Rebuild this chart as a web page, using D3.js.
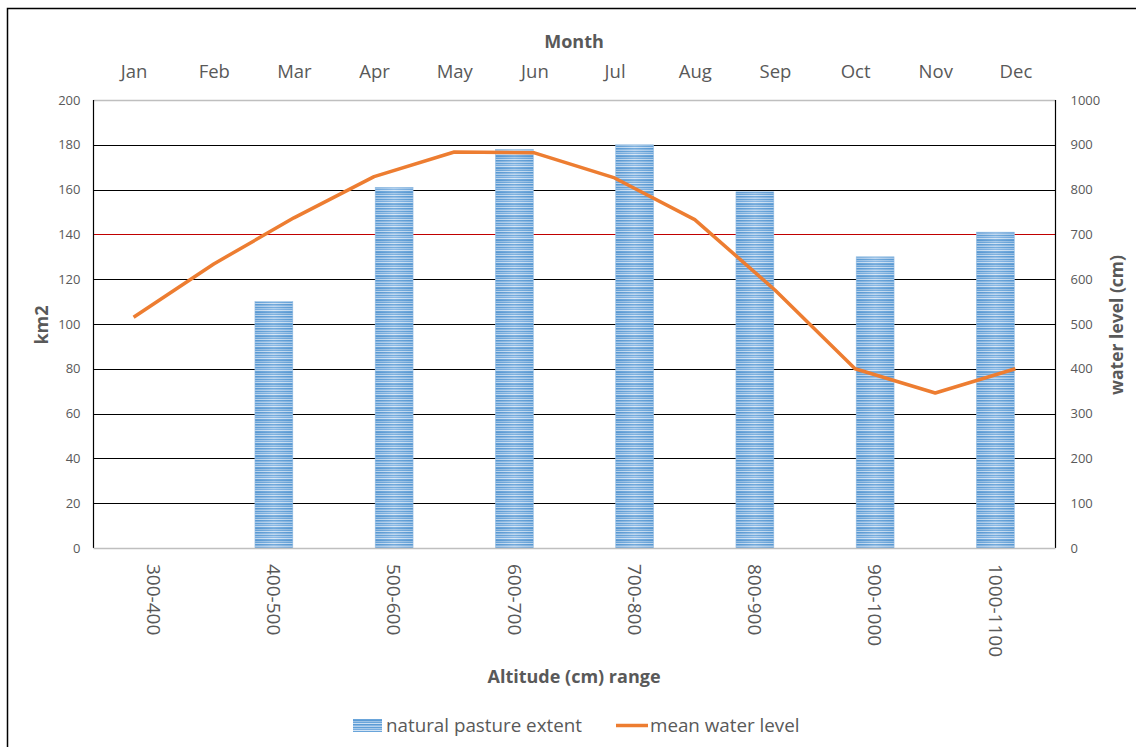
<!DOCTYPE html>
<html><head><meta charset="utf-8">
<script src="https://cdn.jsdelivr.net/npm/d3@7"></script>
<style>body{margin:0;background:#fff;font-family:"Open Sans","Liberation Sans",sans-serif;}</style>
</head><body><svg id="c" width="1136" height="747"></svg>
<script>
const categories = ["300-400","400-500","500-600","600-700","700-800","800-900","900-1000","1000-1100"];
const pastureExtent = [0,110,161,178,180,159,130,141];
const months = ["Jan","Feb","Mar","Apr","May","Jun","Jul","Aug","Sep","Oct","Nov","Dec"];
const waterLevel = [515,634,737,829,884,882,826,733,576,400,346,400];
const leftTicks = [0,20,40,60,80,100,120,140,160,180,200];
const rightTicks = [0,100,200,300,400,500,600,700,800,900,1000];

const svg = d3.select("#c");
const L=93.5, R=1055.5, T=100, B=548;
const txt="#595959";
const FF="Open Sans, sans-serif";

svg.append("rect").attr("x",7.5).attr("y",8.5).attr("width",1140).attr("height",760)
  .attr("fill","#fff").attr("stroke","#000").attr("stroke-width",1.5);

const defs = svg.append("defs");
const pat = defs.append("pattern").attr("id","stripes").attr("patternUnits","userSpaceOnUse")
  .attr("width",8).attr("height",12);
const rows = ["#5b9bd5","#9cc2e5","#6aa5da","#c9def2","#5b9bd5","#8ab8e2","#b5d1ee","#5f9fd7","#a6c9ea","#78ade0","#d2e4f5","#6aa5da"];
rows.forEach((c,i)=>pat.append("rect").attr("x",0).attr("y",i).attr("width",8).attr("height",1).attr("fill",c));
const grad = defs.append("linearGradient").attr("id","sheen").attr("x1","0").attr("x2","1").attr("y1","0").attr("y2","0");
grad.append("stop").attr("offset","0").attr("stop-color","#2e75b6").attr("stop-opacity",0.12);
grad.append("stop").attr("offset","0.5").attr("stop-color","#ffffff").attr("stop-opacity",0.15);
grad.append("stop").attr("offset","1").attr("stop-color","#2e75b6").attr("stop-opacity",0.12);

const x = d3.scaleBand().domain(categories).range([L,R]).paddingInner(0.685).paddingOuter(0.3425);
const xm = d3.scalePoint().domain(months).range([L,R]).padding(0.5);
const y = d3.scaleLinear().domain([0,200]).range([B,T]);
const y2 = d3.scaleLinear().domain([0,1000]).range([B,T]);

// gridlines
svg.append("g").selectAll("line").data(leftTicks.filter(d=>d>0&&d<200)).join("line")
  .attr("x1",L).attr("x2",R).attr("y1",d=>Math.round(y(d))+0.5).attr("y2",d=>Math.round(y(d))+0.5)
  .attr("stroke",d=>d===140?"#c00000":"#000").attr("stroke-width",1.2);
svg.append("line").attr("x1",L).attr("x2",R).attr("y1",T+0.5).attr("y2",T+0.5).attr("stroke","#bfbfbf").attr("stroke-width",1.5);

// bars
const bars = svg.append("g");
bars.selectAll("rect.b").data(categories).join("rect").attr("class","b")
  .attr("x",d=>x(d)).attr("width",x.bandwidth())
  .attr("y",(d,i)=>y(pastureExtent[i])).attr("height",(d,i)=>B-y(pastureExtent[i]))
  .attr("fill","url(#stripes)").attr("stroke","#9dc3e6").attr("stroke-width",0.6);
bars.selectAll("rect.s").data(categories).join("rect").attr("class","s")
  .attr("x",d=>x(d)).attr("width",x.bandwidth())
  .attr("y",(d,i)=>y(pastureExtent[i])).attr("height",(d,i)=>B-y(pastureExtent[i]))
  .attr("fill","url(#sheen)");

// axis lines
svg.append("line").attr("x1",L).attr("x2",L).attr("y1",T).attr("y2",B).attr("stroke","#000").attr("stroke-width",1.2);
svg.append("line").attr("x1",R).attr("x2",R).attr("y1",T).attr("y2",B).attr("stroke","#000").attr("stroke-width",1.2);
svg.append("line").attr("x1",L).attr("x2",R).attr("y1",B+0.5).attr("y2",B+0.5).attr("stroke","#bfbfbf").attr("stroke-width",1.5);

// left axis
const ly = d3.axisLeft(y).tickValues(leftTicks).tickSize(0).tickPadding(13).tickFormat(d3.format("d"));
const gL = svg.append("g").attr("transform",`translate(${L},0)`).call(ly);
gL.select(".domain").remove();
gL.selectAll("text").attr("fill",txt).style("font-size","13px").style("font-family",FF);

const ry = d3.axisRight(y2).tickValues(rightTicks).tickSize(0).tickPadding(15).tickFormat(d3.format("d"));
const gR = svg.append("g").attr("transform",`translate(${R},0)`).call(ry);
gR.select(".domain").remove();
gR.selectAll("text").attr("fill",txt).style("font-size","13px").style("font-family",FF);

// top month axis
const tx = d3.axisTop(xm).tickSize(0).tickPadding(14);
const gT = svg.append("g").attr("transform",`translate(0,${T-8})`).call(tx);
gT.select(".domain").remove();
gT.selectAll("text").attr("fill",txt).style("font-size","18.5px").style("font-family",FF);

// bottom category axis (rotated)
const bx = d3.axisBottom(x).tickSize(0);
const gB = svg.append("g").attr("transform",`translate(0,${B})`).call(bx);
gB.select(".domain").remove();
gB.selectAll("text").attr("fill",txt).style("font-size","19px").style("font-family",FF)
  .attr("transform","rotate(90)").attr("x",16).attr("y",0).attr("dy","0.35em").style("text-anchor","start");

// line
const line = d3.line().x((d,i)=>xm(months[i])).y(d=>y2(d));
svg.append("path").datum(waterLevel).attr("d",line).attr("fill","none")
  .attr("stroke","#ed7d31").attr("stroke-width",3.5).attr("stroke-linejoin","round");

// titles
function t(s,xx,yy,rot,size){
  return svg.append("text").text(s).attr("text-anchor","middle").attr("transform",`translate(${xx},${yy}) rotate(${rot||0})`)
    .attr("fill",txt).style("font-weight","bold").style("font-size",(size||18)+"px").style("font-family",FF);
}
t("Month",574,48,0,18);
t("km2",48,325,-90,18);
t("water level (cm)",1123,325,-90,17.5);
t("Altitude (cm) range",574,683,0,18);

// legend
const lg = svg.append("g");
lg.append("rect").attr("x",353).attr("y",719).attr("width",29).attr("height",13).attr("fill","url(#stripes)");
lg.append("text").text("natural pasture extent").attr("x",386).attr("y",732).attr("fill",txt).style("font-size","18.8px").style("font-family",FF);
lg.append("line").attr("x1",616).attr("x2",648).attr("y1",725.5).attr("y2",725.5).attr("stroke","#ed7d31").attr("stroke-width",3.5);
lg.append("text").text("mean water level").attr("x",650).attr("y",732).attr("fill",txt).style("font-size","18.8px").style("font-family",FF);
</script></body></html>
